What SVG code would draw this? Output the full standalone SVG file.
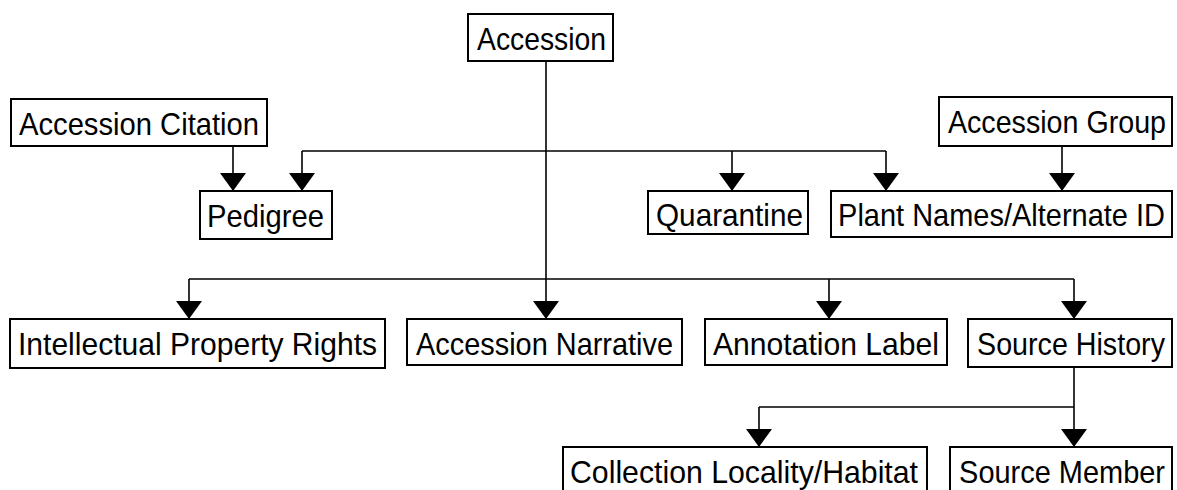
<svg xmlns="http://www.w3.org/2000/svg" width="1177" height="490" viewBox="0 0 1177 490">
<style>
.box{fill:#fff;stroke:#000;stroke-width:2}
.lbl{font-family:"Liberation Sans",Arial,sans-serif;font-size:32px;fill:#000}
.e{text-anchor:end}
.c{fill:none;stroke:#000;stroke-width:1.6}
</style>
<defs>
<marker id="ah" viewBox="0 0 18 26" refX="18" refY="13" markerWidth="18" markerHeight="26" markerUnits="userSpaceOnUse" orient="auto">
<path d="M0,0 L18,13 L0,26 z" fill="#000"/>
</marker>
</defs>
<rect width="1177" height="490" fill="#fff"/>
<g id="connectors">
<path class="c" d="M546,61 V319" marker-end="url(#ah)"/>
<path class="c" d="M302,151 H886"/>
<path class="c" d="M302,151 V191" marker-end="url(#ah)"/>
<path class="c" d="M732,151 V191" marker-end="url(#ah)"/>
<path class="c" d="M886,151 V191" marker-end="url(#ah)"/>
<path class="c" d="M233,146 V191" marker-end="url(#ah)"/>
<path class="c" d="M1062,146 V191" marker-end="url(#ah)"/>
<path class="c" d="M189,279 H1074"/>
<path class="c" d="M189,279 V319" marker-end="url(#ah)"/>
<path class="c" d="M829,279 V319" marker-end="url(#ah)"/>
<path class="c" d="M1074,279 V319" marker-end="url(#ah)"/>
<path class="c" d="M1074,367 V447" marker-end="url(#ah)"/>
<path class="c" d="M759,407 H1074"/>
<path class="c" d="M759,407 V447" marker-end="url(#ah)"/>
</g>
<g id="accession"><rect class="box" x="468" y="14" width="145" height="47"/><text class="lbl" x="477" y="50" textLength="129" lengthAdjust="spacingAndGlyphs">Accession</text></g>
<g id="accession-citation"><rect class="box" x="11" y="99" width="256" height="47"/><text class="lbl" x="19" y="135" textLength="240" lengthAdjust="spacingAndGlyphs">Accession Citation</text></g>
<g id="accession-group"><rect class="box" x="939" y="97" width="233" height="49"/><text class="lbl e" transform="translate(1166,133) scale(0.895,1)">Accession Group</text></g>
<g id="pedigree"><rect class="box" x="200" y="191" width="132" height="48"/><text class="lbl" x="207" y="227" textLength="117" lengthAdjust="spacingAndGlyphs">Pedigree</text></g>
<g id="quarantine"><rect class="box" x="648" y="191" width="160" height="43"/><text class="lbl" x="656" y="226" textLength="147" lengthAdjust="spacingAndGlyphs">Quarantine</text></g>
<g id="plant-names"><rect class="box" x="831" y="191" width="341" height="46"/><text class="lbl e" transform="translate(1165,226) scale(0.906,1)">Plant Names/Alternate ID</text></g>
<g id="ipr"><rect class="box" x="10" y="319" width="375" height="49"/><text class="lbl" x="18" y="355" textLength="359" lengthAdjust="spacingAndGlyphs">Intellectual Property Rights</text></g>
<g id="accession-narrative"><rect class="box" x="407" y="319" width="275" height="46"/><text class="lbl" x="416" y="355" textLength="257" lengthAdjust="spacingAndGlyphs">Accession Narrative</text></g>
<g id="annotation-label"><rect class="box" x="705" y="319" width="242" height="46"/><text class="lbl" x="713" y="355" textLength="226" lengthAdjust="spacingAndGlyphs">Annotation Label</text></g>
<g id="source-history"><rect class="box" x="968" y="319" width="204" height="48"/><text class="lbl e" transform="translate(1165,355) scale(0.896,1)">Source History</text></g>
<g id="collection-locality"><rect class="box" x="563" y="447" width="364" height="50"/><text class="lbl" x="570" y="483" textLength="348" lengthAdjust="spacingAndGlyphs">Collection Locality/Habitat</text></g>
<g id="source-member"><rect class="box" x="950" y="447" width="222" height="50"/><text class="lbl e" transform="translate(1165,483) scale(0.905,1)">Source Member</text></g>
</svg>
